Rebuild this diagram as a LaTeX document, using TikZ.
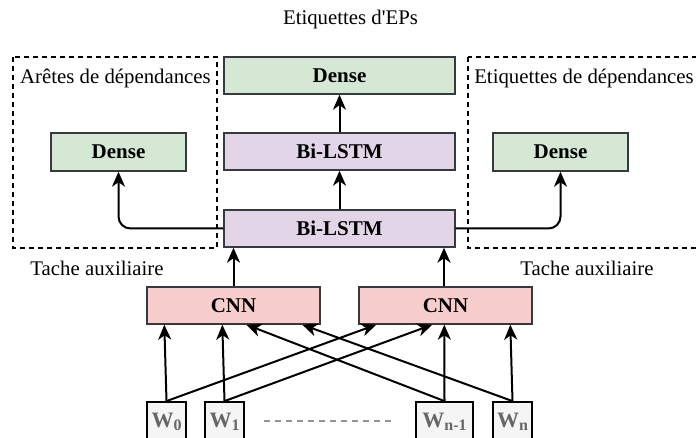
\documentclass[tikz,border=0pt]{standalone}
\usepackage{fontspec}
\setmainfont{Liberation Serif}
\newfontfamily\plainserif{Liberation Serif}[Ligatures=TeXOff]
\usetikzlibrary{arrows.meta,calc}
\definecolor{dgreen}{HTML}{D5E8D4}
\definecolor{dpurple}{HTML}{E1D5E7}
\definecolor{dpink}{HTML}{F8CECC}
\definecolor{dgrayfill}{HTML}{F5F5F5}
\definecolor{dstroke}{HTML}{36393D}
\definecolor{wtext}{HTML}{666666}
\tikzset{
  box/.style={draw=dstroke, line width=1.4pt, inner sep=0pt, font=\fontsize{21}{25}\selectfont\bfseries},
  densebox/.style={box, fill=dgreen},
  lstmbox/.style={box, fill=dpurple},
  cnnbox/.style={box, fill=dpink},
  wbox/.style={draw=black, line width=1.8pt, fill=dgrayfill, inner sep=0pt, minimum height=40pt, text=wtext, font=\fontsize{22}{26}\selectfont\bfseries},
  lbl/.style={inner sep=0pt, font=\fontsize{20.8}{25}\selectfont},
  conn/.style={line width=2pt, -{Stealth[length=15pt,width=13pt,inset=4.5pt]}},
  dbox/.style={draw=black, line width=1.4pt, dash pattern=on 5pt off 4pt},
}
\newcommand{\wsub}[1]{\raisebox{-0.35ex}{\fontsize{16}{18}\selectfont #1}}
\begin{document}
\begin{tikzpicture}[x=1pt,y=-1pt]
\clip (0,0) rectangle (696,438);
\useasboundingbox (0,0) rectangle (696,438);
% dashed regions
\draw[dbox] (13,57) rectangle (217,248);
\draw[dbox] (468,57) rectangle (720,248);
% labels
\node[lbl] (title) at (350.5,20) {\plainserif Etiquettes d'EPs};
\node[lbl] (lab1) at (115.5,78) {Arêtes de dépendances};
\node[lbl] (lab2) at (584,78) {Etiquettes de dépendances};
\node[lbl] (aux1) at (97,268) {Tache auxiliaire};
\node[lbl] (aux2) at (587,268) {Tache auxiliaire};
% main stack
\node[densebox, minimum width=231pt, minimum height=37pt] (d1) at (339.5,75.5) {Dense};
\node[lstmbox, minimum width=231pt, minimum height=37pt] (bl1) at (339.5,151.5) {Bi-LSTM};
\node[lstmbox, minimum width=231pt, minimum height=37pt] (bl2) at (339.5,228.5) {Bi-LSTM};
\node[densebox, minimum width=135pt, minimum height=38pt] (dl) at (118.5,152) {Dense};
\node[densebox, minimum width=135pt, minimum height=38pt] (dr) at (560.5,152) {Dense};
% CNNs
\node[cnnbox, minimum width=173pt, minimum height=37pt] (cl) at (233.5,305.5) {CNN};
\node[cnnbox, minimum width=173pt, minimum height=37pt] (cr) at (445.5,305.5) {CNN};
% words
\node[wbox, minimum width=39pt] (w0) at (166.5,422) {W\wsub{0}};
\node[wbox, minimum width=39pt] (w1) at (224.5,422) {W\wsub{1}};
\node[wbox, minimum width=57pt] (wn1) at (444.5,422) {W\wsub{n-1}};
\node[wbox, minimum width=39pt] (wn) at (512.5,422) {W\wsub{n}};
\draw[wtext!70, line width=1.3pt, dash pattern=on 6pt off 5pt] ($(w1.east)+(19,-1)$) -- ($(wn1.west)+(-21,-1)$);
% connectors
\draw[conn] (bl1.north) -- (d1.south);
\draw[conn] (bl2.north) -- (bl1.south);
\draw[conn, rounded corners=12pt] (bl2.west) -| (dl.south);
\draw[conn, rounded corners=12pt] (bl2.east) -| (dr.south);
\draw[conn] (cl.north) -- (cl.north |- bl2.south);
\draw[conn] ($(cr.north)+(-1.5,0)$) -- ($(cr.north |- bl2.south)+(-1.5,0)$);
\draw[conn] (w0.north) -- ($(cl.south west)+(18,0)$);
\draw[conn] (w1.north) -- ($(cl.south west)+(76,0)$);
\draw[conn] (w0.north) -- ($(cr.south west)+(18,0)$);
\draw[conn] (w1.north) -- ($(cr.south west)+(74,0)$);
\draw[conn] (wn1.north) -- ($(cl.south west)+(100,0)$);
\draw[conn] (wn.north) -- ($(cl.south west)+(156,0)$);
\draw[conn] (wn1.north) -- ($(cr.south west)+(86,0)$);
\draw[conn] (wn.north) -- ($(cr.south west)+(152,0)$);
\end{tikzpicture}
\end{document}
